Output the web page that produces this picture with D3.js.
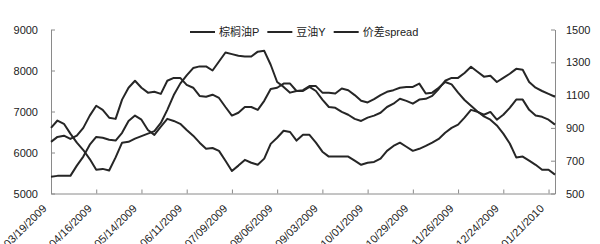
<!DOCTYPE html>
<html>
<head>
<meta charset="utf-8">
<script src="https://cdn.jsdelivr.net/npm/d3@7"></script>
<style>
  body { margin: 0; background: #fff; }
  svg text { font-family: Arial, "Liberation Sans", "Noto Sans CJK SC", sans-serif; fill: #222; }
</style>
</head>
<body>
<script>
// one reading every 4 days starting 03/19/2009
const startDate = new Date(2009, 2, 19)
const stepDays = 4

// 棕榈油P (left axis)
const palm = [5410, 5430, 5430, 5430, 5680, 5900, 6190, 6380, 6360, 6310,
  6290, 6480, 6770, 6900, 6800, 6550, 6430, 6630, 6820, 6770,
  6700, 6550, 6410, 6240, 6090, 6110, 6040, 5800, 5550, 5680,
  5820, 5750, 5700, 5850, 6210, 6360, 6530, 6500, 6290, 6430,
  6430, 6240, 6020, 5900, 5900, 5900, 5900, 5800, 5700, 5750,
  5770, 5850, 6040, 6160, 6240, 6140, 6040, 6090, 6160, 6240,
  6330, 6480, 6600, 6680, 6850, 7040, 6990, 6920, 6990, 6800,
  6920, 7090, 7290, 7290, 7040, 6900, 6870, 6800, 6680]

// 豆油Y (left axis)
const soy = [6260, 6380, 6410, 6330, 6410, 6600, 6900, 7140, 7040, 6850,
  6820, 7290, 7580, 7750, 7580, 7460, 7480, 7430, 7750, 7820,
  7820, 7650, 7580, 7380, 7360, 7410, 7330, 7110, 6900, 6970,
  7110, 7110, 7040, 7260, 7550, 7580, 7680, 7680, 7500, 7500,
  7600, 7500, 7290, 7110, 7090, 6990, 6920, 6820, 6770, 6850,
  6900, 6970, 7110, 7190, 7310, 7260, 7190, 7290, 7310, 7380,
  7550, 7750, 7820, 7820, 7940, 8090, 7970, 7850, 7870, 7720,
  7820, 7920, 8040, 8020, 7720, 7580, 7500, 7430, 7360]

// 价差spread (right axis)
const spread = [900, 945, 925, 865, 810, 765, 710, 645, 650, 640,
  720, 810, 815, 835, 850, 865, 880, 930, 1010, 1100,
  1170, 1220, 1265, 1275, 1275, 1250, 1305, 1360, 1350, 1340,
  1335, 1335, 1365, 1370, 1285, 1180, 1150, 1115, 1125, 1130,
  1155, 1155, 1115, 1115, 1110, 1140, 1130, 1100, 1065, 1055,
  1075, 1100, 1120, 1130, 1145, 1150, 1150, 1170, 1110, 1115,
  1145, 1180, 1165, 1115, 1070, 1035, 1000, 970, 950, 915,
  865, 805, 720, 725, 700, 675, 645, 645, 615]

const leftTicks = [5000, 6000, 7000, 8000, 9000]
const rightTicks = [500, 700, 900, 1100, 1300, 1500]
const dateTicks = ['03/19/2009', '04/16/2009', '05/14/2009', '06/11/2009', '07/09/2009', '08/06/2009',
  '09/03/2009', '10/01/2009', '10/29/2009', '11/26/2009', '12/24/2009', '01/21/2010']
const legendNames = ['棕榈油P', '豆油Y', '价差spread']

const parse = d3.timeParse('%m/%d/%Y')
const fmt = d3.timeFormat('%m/%d/%Y')
const dates = palm.map((d, i) => d3.timeDay.offset(startDate, i * stepDays))

const width = 600
const height = 244
const lineColor = '#262626'
const axisColor = '#8a8a8a'

const svg = d3.select('body')
  .append('svg')
  .attr('width', width)
  .attr('height', height)

const x = d3.scaleTime()
  .domain([dates[0], dates[dates.length - 1]])
  .range([51, 555])
const yL = d3.scaleLinear().domain([5000, 9000]).range([193.5, 29.5])
const yR = d3.scaleLinear().domain([500, 1500]).range([193.5, 29.5])

// axes
const gLeft = svg.append('g')
  .attr('transform', 'translate(51,0)')
  .call(d3.axisLeft(yL).tickValues(leftTicks).tickFormat(d3.format('d'))
    .tickSizeInner(-4).tickSizeOuter(0).tickPadding(13))

const gRight = svg.append('g')
  .attr('transform', 'translate(555,0)')
  .call(d3.axisRight(yR).tickValues(rightTicks).tickFormat(d3.format('d'))
    .tickSizeInner(-4).tickSizeOuter(0).tickPadding(11))

const gBottom = svg.append('g')
  .attr('transform', 'translate(0,193.5)')
  .call(d3.axisBottom(x).tickValues(dateTicks.map(parse)).tickFormat(fmt)
    .tickSizeInner(-4).tickSizeOuter(0))

gBottom.selectAll('.tick text')
  .attr('x', 0)
  .attr('y', 0)
  .attr('dy', '0.35em')
  .attr('transform', 'translate(-7,13) rotate(-45)')
  .style('text-anchor', 'end')

svg.selectAll('.domain, .tick line')
  .attr('stroke', axisColor)
  .attr('stroke-width', 1)
svg.selectAll('.tick text')
  .attr('font-size', 11)
  .attr('font-family', null)
  .attr('fill', null)

// series
const series = [
  { name: legendNames[0], values: palm, y: yL },
  { name: legendNames[1], values: soy, y: yL },
  { name: legendNames[2], values: spread, y: yR }
]

series.forEach(s => {
  const line = d3.line()
    .x((d, i) => x(dates[i]))
    .y(d => s.y(d))
  svg.append('path')
    .datum(s.values)
    .attr('d', line)
    .attr('fill', 'none')
    .attr('stroke', lineColor)
    .attr('stroke-width', 2)
    .attr('stroke-linejoin', 'round')
})

// legend
const legend = svg.append('g').attr('transform', 'translate(190,32)')
let lx = 0
series.forEach(s => {
  legend.append('line')
    .attr('x1', lx).attr('x2', lx + 25)
    .attr('y1', 0).attr('y2', 0)
    .attr('stroke', lineColor)
    .attr('stroke-width', 2)
  const t = legend.append('text')
    .attr('x', lx + 29)
    .attr('y', 0)
    .attr('dy', '0.35em')
    .attr('font-size', 11)
    .text(s.name)
  lx += 29 + t.node().getComputedTextLength() + 8
})
</script>
</body>
</html>
